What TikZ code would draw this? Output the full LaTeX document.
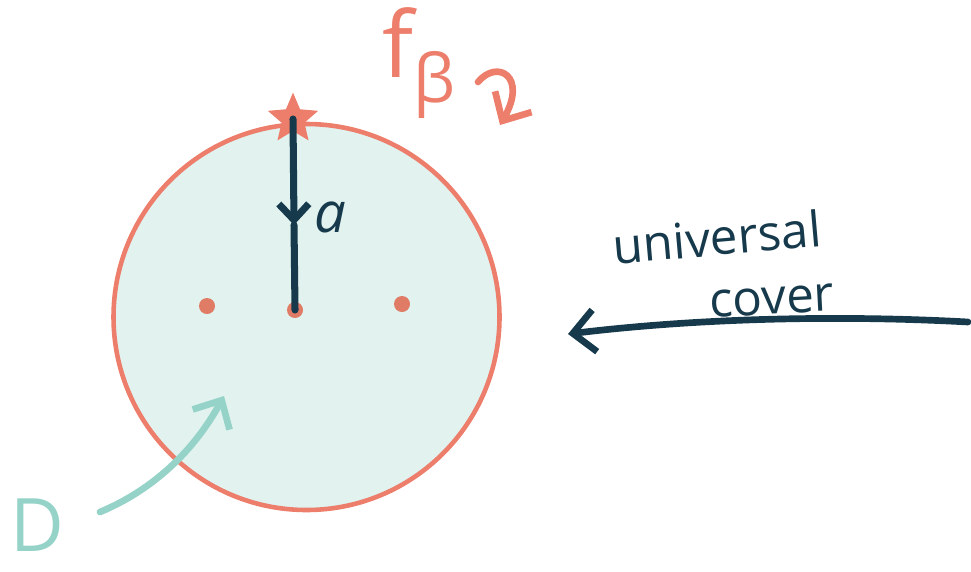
\documentclass[tikz,border=0pt]{standalone}
\usepackage{fontspec}
\setmainfont{Open Sans}
\usepackage{tikz}
\usetikzlibrary{arrows.meta,positioning,shapes.geometric}

\definecolor{navy}{HTML}{163A4B}
\definecolor{salmon}{HTML}{EC7E6B}
\definecolor{dotred}{HTML}{E07B65}
\definecolor{teal}{HTML}{95D3C8}
\definecolor{discfill}{HTML}{E1F2EF}

\begin{document}
\begin{tikzpicture}[
  disc/.style={circle, draw=salmon, fill=discfill, line width=1.3pt,
    minimum size=3.86cm, inner sep=0pt},
  pt/.style={circle, fill=dotred, minimum size=1.6mm, inner sep=0pt},
  basept/.style={star, star points=5, star point ratio=2.2, draw=salmon,
    fill=salmon, line width=1.2pt, minimum size=4.2mm, inner sep=0pt},
  radius/.style={navy, line width=2pt, line cap=round},
  hand/.style={line width=1.9pt, line cap=round,
    -{Straight Barb[length=2.2mm, width=4.2mm, line width=1.9pt]}},
  lbl/.style={font=\fontsize{14}{16}\selectfont, text=navy, inner sep=0pt},
]
  \useasboundingbox (0,0) rectangle (9.71,5.71);
  % Disc and points
  \node[disc] (disc) at (3.065,2.54) {};
  \node[pt] (p0) at (2.95,2.61) {};
  \node[pt] (pl) at (2.07,2.65) {};
  \node[pt] (pr) at (4.02,2.67) {};
  \node[basept] (star) at (2.93,4.52) {};
  % Radius a
  \coordinate (tick) at (2.94,3.46);
  \draw[radius, -{Straight Barb[length=1.6mm, width=3mm, line width=2pt]}]
    (star.center) -- (tick);
  \draw[radius] (tick) -- (p0.center);
  \node[lbl, font=\fontsize{16}{18}\selectfont\itshape, right=0.2cm of tick,
    yshift=0.08cm] (a) {a};
  % Deck transformation
  \node[text=salmon, font=\fontsize{26}{28}\selectfont] (f) at (4.19,5.08)
    {f\raisebox{-0.5ex}{\fontsize{19}{20}\selectfont β}};
  \coordinate (fs) at (4.78,4.89);
  \coordinate (fe) at (5.00,4.46);
  \draw[salmon, hand] (fs) .. controls (4.97,5.12) and (5.28,4.95) .. (fe);
  % Universal cover
  \node[lbl, rotate=5] (univ) at (7.17,3.34) {universal};
  \node[lbl, rotate=3] (cover) at (7.72,2.70) {cover};
  \coordinate (ucs) at (9.68,2.49);
  \draw[navy, hand] (ucs) .. controls (8.4,2.56) and (7.0,2.53) .. (5.68,2.37);
  % D
  \node[text=teal, font=\fontsize{21}{23}\selectfont, inner sep=0pt] (D)
    at (0.37,0.46) {D};
  \coordinate (ds) at (1.00,0.59);
  \draw[teal, hand] (ds) .. controls (1.55,0.82) and (1.95,1.22) .. (2.24,1.75);
\end{tikzpicture}
\end{document}
